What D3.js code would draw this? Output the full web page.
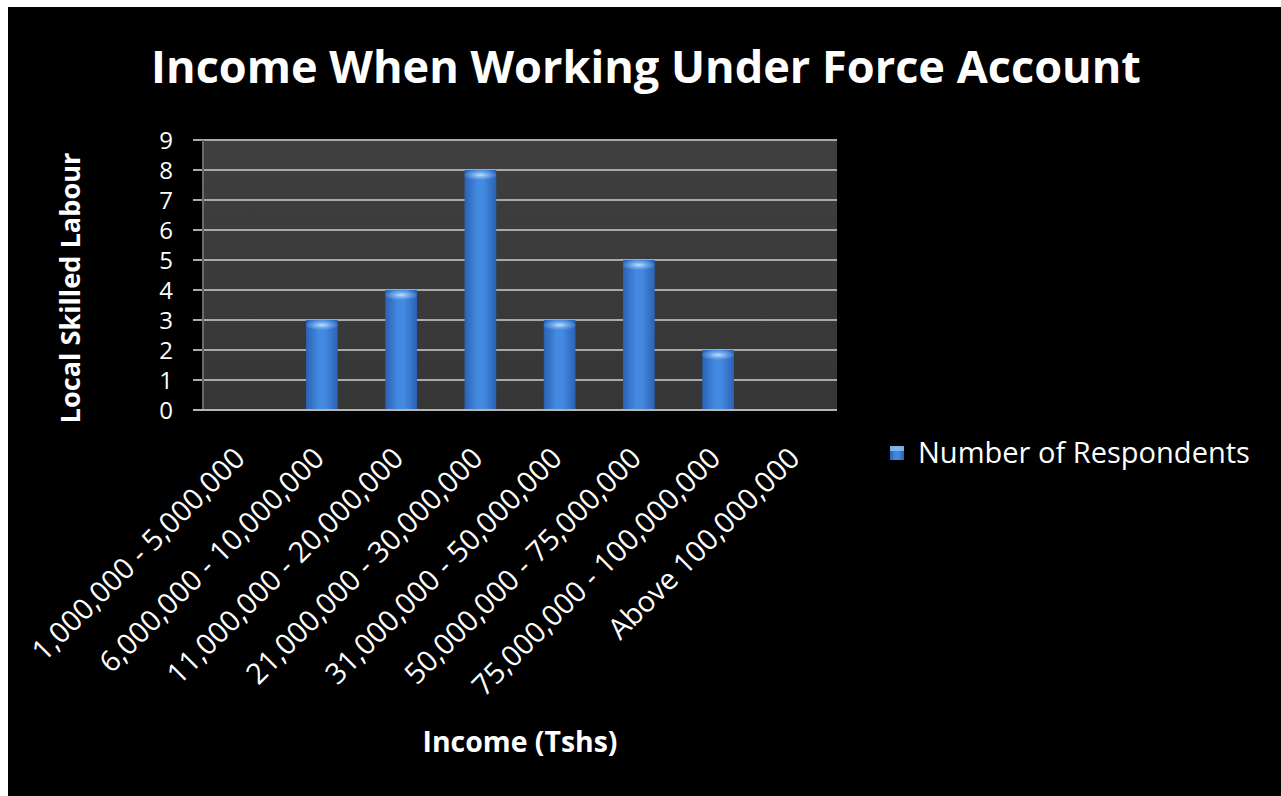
<!DOCTYPE html>
<html>
<head>
<meta charset="utf-8">
<script src="https://cdn.jsdelivr.net/npm/d3@7"></script>
<style>
  html, body { margin: 0; padding: 0; background: #fff; }
  svg { display: block; }
  text { font-family: "Open Sans", "DejaVu Sans", sans-serif; fill: #fff; }
</style>
</head>
<body>
<svg id="chart" width="1281" height="796"></svg>
<script>
// chart values
var categories = [
  '1,000,000 - 5,000,000',
  '6,000,000 - 10,000,000',
  '11,000,000 - 20,000,000',
  '21,000,000 - 30,000,000',
  '31,000,000 - 50,000,000',
  '50,000,000 - 75,000,000',
  '75,000,000 - 100,000,000',
  'Above 100,000,000'
];
var respondents = [0, 3, 4, 8, 3, 5, 2, 0];
var yTicks = [0, 1, 2, 3, 4, 5, 6, 7, 8, 9];
var seriesName = 'Number of Respondents';
var chartTitle = 'Income When Working Under Force Account';
var xTitle = 'Income (Tshs)';
var yTitle = 'Local Skilled Labour';

(function() {
  'use strict';

  var svg = d3.select('#chart'),
    margin = { top: 140, right: 444, bottom: 386, left: 203 },
    width = 1281 - margin.left - margin.right,
    height = 796 - margin.top - margin.bottom;

  // shrink/grow a text node's font until it spans the wanted width
  var fitText = function(sel, target) {
    var node = sel.node(),
      size = parseFloat(sel.style('font-size')),
      w = node.getComputedTextLength();
    sel.style('font-size', (size * target / w).toFixed(2) + 'px');
  };

  // black card with white strip top and left
  svg.append('rect').attr('width', 1281).attr('height', 796).attr('fill', '#fff');
  svg.append('rect').attr('x', 8).attr('y', 7).attr('width', 1273).attr('height', 789).attr('fill', '#000');

  var defs = svg.append('defs');
  var barGrad = defs.append('linearGradient').attr('id', 'barGrad')
    .attr('x1', 0).attr('x2', 1).attr('y1', 0).attr('y2', 0);
  barGrad.append('stop').attr('offset', '0%').attr('stop-color', '#2a62b4');
  barGrad.append('stop').attr('offset', '40%').attr('stop-color', '#4389e0');
  barGrad.append('stop').attr('offset', '60%').attr('stop-color', '#4389e0');
  barGrad.append('stop').attr('offset', '100%').attr('stop-color', '#2a62b4');

  var capGrad = defs.append('radialGradient').attr('id', 'capGrad')
    .attr('cx', '50%').attr('cy', '50%').attr('r', '50%');
  capGrad.append('stop').attr('offset', '0%').attr('stop-color', '#c4e2ff');
  capGrad.append('stop').attr('offset', '100%').attr('stop-color', '#5b9be6').attr('stop-opacity', 0.3);

  var bgGrad = defs.append('linearGradient').attr('id', 'bgGrad')
    .attr('x1', 0).attr('x2', 0).attr('y1', 0).attr('y2', 1);
  bgGrad.append('stop').attr('offset', '0%').attr('stop-color', '#3f3f3f');
  bgGrad.append('stop').attr('offset', '100%').attr('stop-color', '#363636');

  var xScale = d3.scaleBand()
    .domain(categories)
    .range([0, width])
    .paddingInner(0.6)
    .paddingOuter(0.3);

  var yScale = d3.scaleLinear()
    .domain([0, 9])
    .range([height, 0]);

  var g = svg.append('g')
    .attr('transform', 'translate(' + margin.left + ',' + margin.top + ')');

  // plot background
  g.append('rect')
    .attr('width', width)
    .attr('height', height)
    .attr('fill', 'url(#bgGrad)');

  // gridlines
  g.append('g')
    .selectAll('line')
    .data(yTicks)
    .enter()
    .append('line')
    .attr('x1', -10)
    .attr('x2', width)
    .attr('y1', function(d) { return yScale(d); })
    .attr('y2', function(d) { return yScale(d); })
    .attr('stroke', '#a9a9a9')
    .attr('stroke-width', 2);

  g.append('line')
    .attr('x1', 0).attr('x2', 0)
    .attr('y1', 0).attr('y2', height)
    .attr('stroke', '#6a6a6a')
    .attr('stroke-width', 2);

  // bars
  var barData = respondents.map(function(v, i) { return { cat: categories[i], v: v }; })
    .filter(function(d) { return d.v > 0; });

  var barG = g.append('g')
    .selectAll('g')
    .data(barData)
    .enter()
    .append('g');

  barG.append('rect')
    .attr('x', function(d) { return xScale(d.cat); })
    .attr('y', function(d) { return yScale(d.v); })
    .attr('width', xScale.bandwidth())
    .attr('height', function(d) { return height - yScale(d.v); })
    .attr('fill', 'url(#barGrad)');

  barG.append('ellipse')
    .attr('cx', function(d) { return xScale(d.cat) + xScale.bandwidth() / 2; })
    .attr('cy', function(d) { return yScale(d.v) + 5; })
    .attr('rx', xScale.bandwidth() / 2)
    .attr('ry', 5)
    .attr('fill', 'url(#capGrad)');

  // bottom axis line
  g.append('line')
    .attr('x1', -10).attr('x2', width)
    .attr('y1', height).attr('y2', height)
    .attr('stroke', '#b5b5b5')
    .attr('stroke-width', 2);

  // y axis labels
  var yAxis = d3.axisLeft(yScale).tickValues(yTicks).tickSize(0).tickPadding(30);
  var yAxisG = g.append('g').call(yAxis);
  yAxisG.select('.domain').remove();
  yAxisG.selectAll('text')
    .attr('fill', '#fff')
    .style('font-size', '24px')
    .style('font-family', '"Open Sans", sans-serif')
    .attr('dy', '0.36em');

  // x axis labels
  var xAxis = d3.axisBottom(xScale).tickSize(0).tickPadding(0);
  var xAxisG = g.append('g')
    .attr('transform', 'translate(0,' + height + ')')
    .call(xAxis);
  xAxisG.select('.domain').remove();
  xAxisG.selectAll('text')
    .attr('fill', '#fff')
    .style('font-size', '29px')
    .style('font-family', '"Open Sans", sans-serif')
    .attr('text-anchor', 'end')
    .attr('dy', 0)
    .attr('y', 0)
    .attr('transform', 'translate(4,50) rotate(-45)');

  // title
  var title = svg.append('text')
    .attr('x', 646)
    .attr('y', 83)
    .attr('text-anchor', 'middle')
    .style('font-weight', 'bold')
    .style('font-size', '44px')
    .text(chartTitle);
  fitText(title, 990);

  // axis titles
  var xt = svg.append('text')
    .attr('x', margin.left + width / 2)
    .attr('y', 752)
    .attr('text-anchor', 'middle')
    .style('font-weight', 'bold')
    .style('font-size', '24px')
    .text(xTitle);
  fitText(xt, 195);

  var yt = svg.append('text')
    .attr('transform', 'translate(80,288) rotate(-90)')
    .attr('text-anchor', 'middle')
    .style('font-weight', 'bold')
    .style('font-size', '24px')
    .text(yTitle);
  fitText(yt, 271);

  // legend
  var legend = svg.append('g').attr('transform', 'translate(890,446)');
  legend.append('rect')
    .attr('width', 14)
    .attr('height', 14)
    .attr('fill', 'url(#barGrad)');
  legend.append('rect')
    .attr('width', 14)
    .attr('height', 5)
    .attr('fill', '#8cc2f5')
    .attr('opacity', 0.8);
  var lt = legend.append('text')
    .attr('x', 28)
    .attr('y', 17)
    .style('font-size', '26px')
    .text(seriesName);
  fitText(lt, 332);
})();
</script>
</body>
</html>
